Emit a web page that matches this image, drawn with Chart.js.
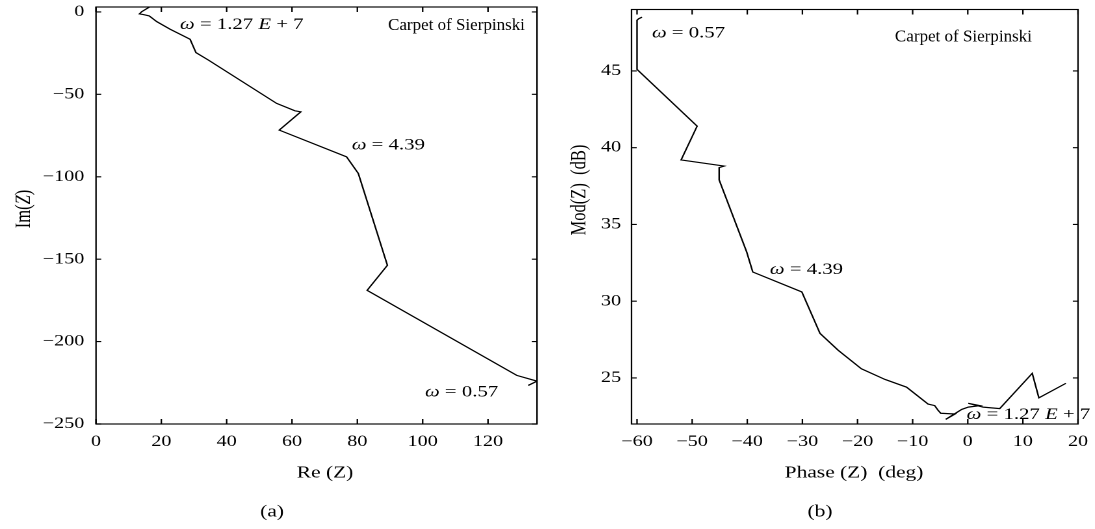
<!DOCTYPE html>
<html><head><meta charset="utf-8">
<script src="https://cdn.jsdelivr.net/npm/chart.js@4/dist/chart.umd.min.js"></script>
<style>
html,body{margin:0;padding:0;background:#fff;width:1095px;height:529px;overflow:hidden;}
.box{position:absolute;top:0;height:529px;width:421px;transform:scaleX(1.3);transform-origin:0 0;}
#wa{left:0;} #wb{left:547px;}
</style></head><body>
<div class="box" id="wa"><canvas id="ca"></canvas></div>
<div class="box" id="wb"><canvas id="cb"></canvas></div>
<script>
// ---- data: panel (a) Nyquist ----
const reZ = [16.3, 14.0, 13.3, 14.5, 16.3, 18.6, 22.7, 28.8, 30.6, 34.4, 55.3, 60.9, 62.7, 56.1, 76.7, 80.3, 89.2, 83.0, 128.8, 135.0, 132.3];
const imZ = [2.9, 0.2, -1.2, -1.6, -2.4, -5.9, -10.5, -16.6, -24.7, -29.2, -55.5, -60.0, -60.6, -71.7, -87.9, -98.0, -153.7, -168.9, -220.5, -224.0, -226.6];
// ---- data: panel (b) Black/Nichols ----
const phaseZ = [-59.1, -59.7, -60.0, -60.0, -49.1, -52.0, -44.2, -45.1, -45.1, -40.1, -39.0, -30.1, -26.8, -23.5, -19.3, -15.0, -11.1, -7.2, -6.0, -5.4, -4.9, -2.3, -4.0, -1.1, 0.1, 2.2, 0.1, 2.8, 5.8, 11.7, 12.9, 17.8];
const modZ = [48.5, 48.4, 48.3, 45.1, 41.4, 39.2, 38.8, 38.7, 37.9, 33.2, 31.9, 30.6, 27.9, 26.8, 25.6, 24.9, 24.4, 23.3, 23.2, 22.9, 22.7, 22.65, 22.3, 22.95, 23.1, 23.2, 23.35, 23.1, 23.0, 25.3, 23.7, 24.65];
// ---- tick labels ----
const xTicksA = [0, 20, 40, 60, 80, 100, 120];
const yTicksA = [0, -50, -100, -150, -200, -250];
const xTicksB = [-60, -50, -40, -30, -20, -10, 0, 10, 20];
const yTicksB = [25, 30, 35, 40, 45];
// ---- annotation texts and anchors (data coords) ----
const annotTextA = [
  [{t:'ω',i:1},{t:' = 1.27 '},{t:'E',i:1},{t:' + 7'}],
  [{t:'Carpet of Sierpinski'}],
  [{t:'ω',i:1},{t:' = 4.39'}],
  [{t:'ω',i:1},{t:' = 0.57'}]
];
const annotXA = [25.7, 89.4, 78.3, 100.7];
const annotYA = [-7.9, -8.2, -80.8, -230.7];
const annotTextB = [
  [{t:'ω',i:1},{t:' = 0.57'}],
  [{t:'Carpet of Sierpinski'}],
  [{t:'ω',i:1},{t:' = 4.39'}],
  [{t:'ω',i:1},{t:' = 1.27 '},{t:'E',i:1},{t:' + 7'}]
];
const annotXB = [-57.3, -13.2, -35.9, -0.2];
const annotYB = [47.45, 47.2, 32.03, 22.59];

const FONT = '"Liberation Serif", "Times New Roman", serif';
const SX = 1.3;            // horizontal stretch of the original figure
const TICK_FS = 15.5, ANN_FS = 16, TITLE_FS = 16.5, CARPET_FS = 17;

function fmt(v){ return String(v).replace('-', '\u2212'); }

function drawRich(ctx, parts, x, y, size, align, unstretch){
  ctx.save();
  ctx.translate(x, y);
  if (unstretch) ctx.scale(1/SX, 1);
  let total = 0;
  parts.forEach(p => { ctx.font = (p.i ? 'italic ' : '') + size + 'px ' + FONT; p.w = ctx.measureText(p.t).width; total += p.w; });
  let cx = align === 'center' ? -total/2 : (align === 'right' ? -total : 0);
  ctx.textBaseline = 'middle'; ctx.textAlign = 'left'; ctx.fillStyle = '#000';
  parts.forEach(p => { ctx.font = (p.i ? 'italic ' : '') + size + 'px ' + FONT; ctx.fillText(p.t, cx, 0); cx += p.w; });
  ctx.restore();
}

function framePlugin(cfg){
  return {
    id: 'frame',
    afterDraw(chart){
      const {ctx, chartArea: a, scales: {x, y}} = chart;
      ctx.save();
      ctx.strokeStyle = '#000'; ctx.lineWidth = 1.15;
      ctx.strokeRect(a.left, a.top, a.right - a.left, a.bottom - a.top);
      ctx.beginPath();
      cfg.xt.forEach(v => { const px = x.getPixelForValue(v);
        ctx.moveTo(px, a.bottom); ctx.lineTo(px, a.bottom - 5);
        ctx.moveTo(px, a.top); ctx.lineTo(px, a.top + 5); });
      cfg.yt.forEach(v => { const py = y.getPixelForValue(v);
        ctx.moveTo(a.left, py); ctx.lineTo(a.left + 4, py);
        ctx.moveTo(a.right, py); ctx.lineTo(a.right - 4, py); });
      ctx.stroke();
      cfg.at.forEach((parts, k) => {
        const carpet = parts.length === 1;
        drawRich(ctx, parts, x.getPixelForValue(cfg.ax[k]), y.getPixelForValue(cfg.ay[k]), carpet ? CARPET_FS : ANN_FS, 'left', carpet);
      });
      drawRich(ctx, cfg.xTitle, cfg.xTitlePos[0], cfg.xTitlePos[1], TITLE_FS, 'center');
      ctx.save(); ctx.translate(cfg.yTitlePos[0], cfg.yTitlePos[1]); ctx.rotate(-Math.PI/2);
      drawRich(ctx, cfg.yTitle, 0, 0, TITLE_FS, 'center'); ctx.restore();
      drawRich(ctx, cfg.caption, cfg.capPos[0], cfg.capPos[1], TITLE_FS, 'center');
      ctx.restore();
    }
  };
}

function zeroPad(s){ s.paddingTop = 0; s.paddingBottom = 0; s.paddingLeft = 0; s.paddingRight = 0; }

function make(id, xs, ys, xr, yr, xt, yt, yw, pad, ylabPad, plug){
  const pts = xs.map((v, i) => ({x: v, y: ys[i]}));
  return new Chart(document.getElementById(id), {
    type: 'scatter',
    data: {datasets: [{data: pts, showLine: true, borderColor: '#000', borderWidth: 1.2, pointRadius: 0, fill: false, tension: 0}]},
    options: {
      responsive: true, maintainAspectRatio: false, animation: false, devicePixelRatio: 2,
      layout: {padding: pad},
      plugins: {legend: {display: false}, tooltip: {enabled: false}},
      scales: {
        x: {type: 'linear', min: xr[0], max: xr[1],
            afterBuildTicks: s => { s.ticks = xt.map(v => ({value: v})); },
            afterFit: s => { s.height = 105; zeroPad(s); },
            grid: {display: false, drawTicks: false}, border: {display: false},
            ticks: {color: '#000', font: {family: FONT, size: TICK_FS}, padding: 8.5, maxRotation: 0, autoSkip: false, callback: v => fmt(v)}},
        y: {type: 'linear', min: yr[0], max: yr[1],
            afterBuildTicks: s => { s.ticks = yt.map(v => ({value: v})); },
            afterFit: s => { s.width = yw; zeroPad(s); },
            grid: {display: false, drawTicks: false}, border: {display: false},
            ticks: {color: '#000', font: {family: FONT, size: TICK_FS}, padding: ylabPad, autoSkip: false, callback: v => fmt(v)}}
      }
    },
    plugins: [plug]
  });
}

// page coords are divided by SX to get canvas coords
make('ca', reZ, imZ, [0, 135], [-250, 3], xTicksA, yTicksA, 96/SX, {top: 7, right: 421 - 537/SX, left: 0, bottom: 0}, 9,
  framePlugin({xt: xTicksA, yt: yTicksA, at: annotTextA, ax: annotXA, ay: annotYA,
    xTitle: [{t:'Re (Z)'}], xTitlePos: [325/SX, 473],
    yTitle: [{t:'Im('},{t:'Z',i:1},{t:')'}], yTitlePos: [24/SX, 209],
    caption: [{t:'(a)'}], capPos: [272/SX, 512]}));

make('cb', phaseZ, modZ, [-61, 20], [22, 49], xTicksB, yTicksB, (631.5-547)/SX, {top: 9.5, right: 421 - (1078-547)/SX, left: 0, bottom: 0}, 8,
  framePlugin({xt: xTicksB, yt: yTicksB, at: annotTextB, ax: annotXB, ay: annotYB,
    xTitle: [{t:'Phase (Z)  (deg)'}], xTitlePos: [(854-547)/SX, 473],
    yTitle: [{t:'Mod(Z)  (dB)'}], yTitlePos: [(580-547)/SX, 190],
    caption: [{t:'(b)'}], capPos: [(820-547)/SX, 512]}));
</script>
</body></html>
